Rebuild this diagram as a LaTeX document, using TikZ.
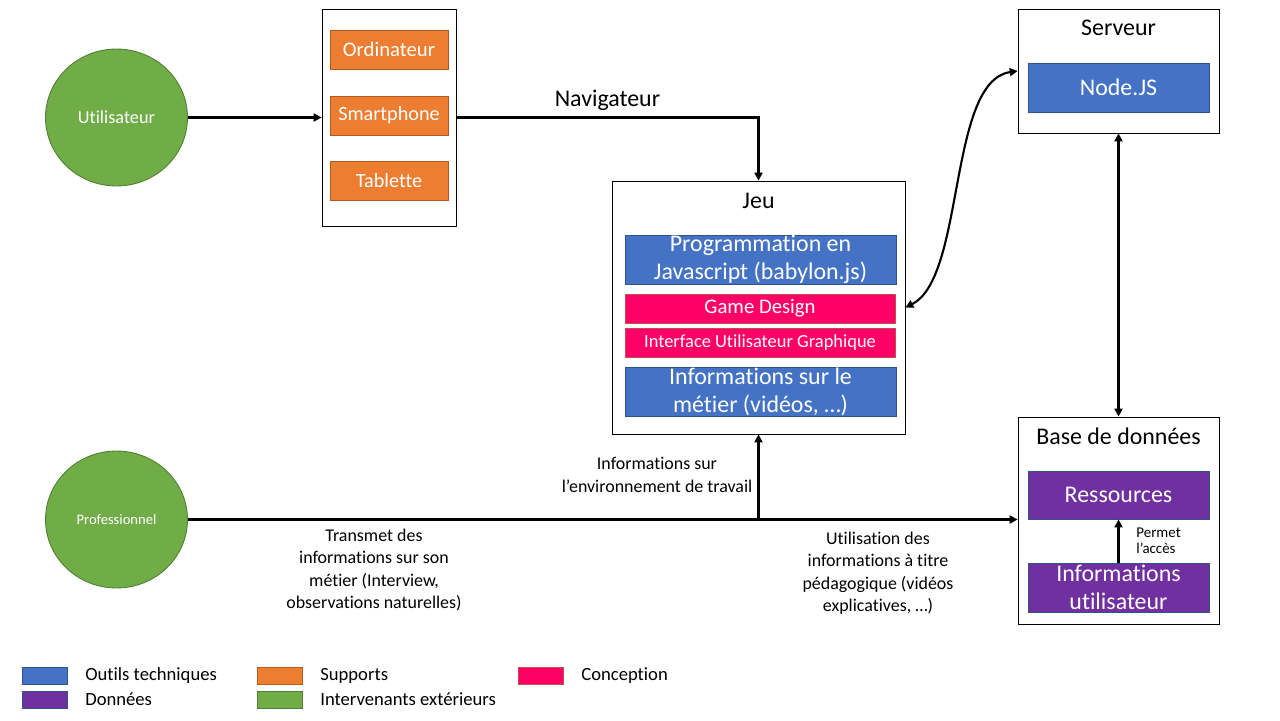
\documentclass[tikz,border=0pt]{standalone}
\usepackage{fontspec}
\setmainfont{Carlito}[Ligatures={NoCommon,NoRequired,NoContextual}]
\usetikzlibrary{arrows.meta,shapes.geometric,positioning}
\definecolor{techblue}{HTML}{4472C4}
\definecolor{techblueline}{HTML}{2F528F}
\definecolor{suporange}{HTML}{ED7D31}
\definecolor{suporangeline}{HTML}{AE5A21}
\definecolor{designpink}{HTML}{FF0066}
\definecolor{designpinkline}{HTML}{C0504D}
\definecolor{datapurple}{HTML}{7030A0}
\definecolor{datapurpleline}{HTML}{2F528F}
\definecolor{actorgreen}{HTML}{70AD47}
\definecolor{actorgreenline}{HTML}{507E32}

\begin{document}
\begin{tikzpicture}[x=0.02cm, y=-0.02cm,
    frame/.style={rectangle, draw, line width=0.45pt, inner sep=0pt},
    tool/.style={rectangle, draw=techblueline, fill=techblue, text=white, line width=0.5pt, inner sep=0pt, align=center},
    support/.style={rectangle, draw=suporangeline, fill=suporange, text=white, line width=0.5pt, inner sep=0pt, minimum width=2.36cm, minimum height=0.78cm},
    design/.style={rectangle, draw=designpinkline, fill=designpink, text=white, line width=0.5pt, inner sep=0pt, minimum width=5.4cm, minimum height=0.58cm},
    data/.style={rectangle, draw=datapurpleline, fill=datapurple, text=white, line width=0.5pt, inner sep=0pt, align=center, minimum width=3.62cm},
    actor/.style={ellipse, draw=actorgreenline, fill=actorgreen, text=white, line width=0.5pt, minimum width=2.84cm, minimum height=2.74cm},
    swatch/.style={rectangle, line width=0.5pt, minimum width=0.9cm, minimum height=0.34cm, inner sep=0pt},
    caption/.style={align=center, font=\fsmall},
    legendtext/.style={anchor=west, inner sep=0pt, font=\flegend},
    arr/.style={line width=1.2pt, -{Triangle[length=4.5pt, width=4.5pt]}},
    dblarr/.style={line width=1.2pt, {Triangle[length=4.5pt, width=4.5pt]}-{Triangle[length=4.5pt, width=4.5pt]}}
  ]
    \def\ftitle{\fontsize{13.6}{15.8}\selectfont}
    \def\fsupport{\fontsize{11.5}{14}\selectfont}
    \def\fdesign{\fontsize{11.8}{14}\selectfont}
    \def\fgui{\fontsize{10.5}{13}\selectfont}
    \def\fsmall{\fontsize{10.2}{12.8}\selectfont}
    \def\flegend{\fontsize{10.6}{13}\selectfont}
    \useasboundingbox (0,0) rectangle (1280,720);

    % acteurs
    \node(user) [actor, font=\fontsize{10.4}{12}\selectfont] at (116.5,117.5) {Utilisateur};
    \node(pro) [actor, font=\fontsize{8.3}{10}\selectfont] at (116.5,519.5) {Professionnel};

    % supports
    \node(supports) [frame, minimum width=2.68cm, minimum height=4.34cm] at (389,117.5) {};
    \node(pc) [support, font=\fdesign] at (389,49.5) {Ordinateur};
    \node(phone) [support, font=\fsupport] at (389,115.5) {Smartphone};
    \node(tablet) [support, font=\fsupport] at (389,181) {Tablette};

    % jeu
    \node(jeu) [frame, minimum width=5.86cm, minimum height=5.06cm] at (758.5,307.5) {};
    \node(jeutitle) [font=\ftitle] at (758.5,201) {Jeu};
    \node(prog) [tool, font=\ftitle, minimum width=5.42cm, minimum height=0.98cm] at (760.5,259.5) {Programmation en\\Javascript (babylon.js)};
    \node(gamedesign) [design, font=\fdesign] at (760,308.5) {Game Design};
    \node(gui) [design, font=\fgui] at (760,342.5) {Interface Utilisateur Graphique};
    \node(metier) [tool, font=\ftitle, minimum width=5.42cm, minimum height=0.98cm] at (760.5,391.5) {Informations sur le\\métier (vidéos, …)};

    % serveur
    \node(serveur) [frame, minimum width=4.02cm, minimum height=2.48cm] at (1118.5,71) {};
    \node(serveurtitle) [font=\ftitle] at (1118.5,28) {Serveur};
    \node(nodejs) [tool, font=\ftitle, minimum width=3.62cm, minimum height=0.98cm] at (1118.5,87.5) {Node.JS};

    % base de donnees
    \node(base) [frame, minimum width=4.02cm, minimum height=4.14cm] at (1118.5,520.5) {};
    \node(basetitle) [font=\ftitle] at (1118.5,436) {Base de données};
    \node(ressources) [data, font=\ftitle, minimum height=0.96cm] at (1118.5,495) {Ressources};
    \node(infouser) [data, font=\ftitle, minimum height=0.98cm] at (1118.5,587.5) {Informations\\utilisateur};

    % connexions
    \draw[arr] (user) -- (supports);
    \draw[arr] (supports.east) -| node[pos=0.25, above, font=\ftitle] (navlabel) {Navigateur} (jeu.north);
    \draw[dblarr] (jeu.east) .. controls +(60,-30) and +(-70,10) .. (serveur.west);
    \draw[dblarr] (serveur.south) -- (base.north);
    \draw[arr] (infouser.north) -- node[right=0.22cm, align=left, font=\fontsize{8.5}{9.2}\selectfont] (acces) {Permet\\l’accès} (ressources.south);
    \coordinate (split) at (jeu.south |- pro.east);
    \draw[arr] (pro.east) -- (pro.east -| base.west);
    \draw[arr] (split) -- (jeu.south);

    % legendes des fleches
    \node(envlabel) [caption] at (657,475) {Informations sur\\l’environnement de travail};
    \node(translabel) [caption] at (374,570) {Transmet des\\informations sur son\\métier (Interview,\\observations naturelles)};
    \node(uselabel) [caption] at (878,573) {Utilisation des\\informations à titre\\pédagogique (vidéos\\explicatives, …)};

    % legende
    \node(keytech) [swatch, draw=techblueline, fill=techblue] at (44.5,675.5) {};
    \node [legendtext] at (85,675.5) {Outils techniques};
    \node(keysupport) [swatch, draw=suporangeline, fill=suporange] at (279.5,675.5) {};
    \node [legendtext] at (320,675.5) {Supports};
    \node(keydesign) [swatch, draw=designpinkline, fill=designpink] at (540.5,675.5) {};
    \node [legendtext] at (581,675.5) {Conception};
    \node(keydata) [swatch, draw=datapurpleline, fill=datapurple] at (44.5,699.5) {};
    \node [legendtext] at (85,699.5) {Données};
    \node(keyactor) [swatch, draw=actorgreenline, fill=actorgreen] at (279.5,699.5) {};
    \node [legendtext] at (320,699.5) {Intervenants extérieurs};
\end{tikzpicture}
\end{document}
